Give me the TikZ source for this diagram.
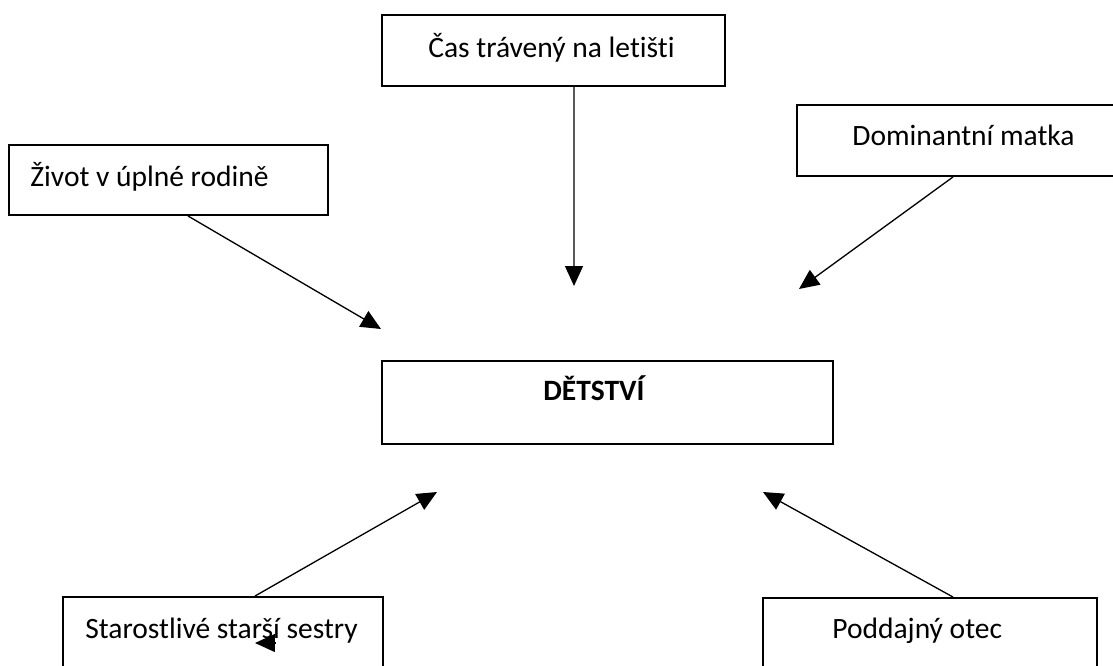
\documentclass[tikz,border=0pt]{standalone}
\usepackage{fontspec}
\setmainfont{Carlito}[Ligatures={NoCommon}]
\usetikzlibrary{arrows.meta,fit}

\begin{document}
\begin{tikzpicture}[x=0.02cm,y=-0.02cm,
		box/.style={draw,line width=1.1pt,inner sep=0pt},
		boxtext/.style={anchor=base west,inner sep=0pt,font=\fontsize{16.8}{20}\selectfont},
		arr/.style={line width=0.75pt,-{Triangle[length=0.4cm,width=0.36cm]}}]
		\useasboundingbox (0,0) rectangle (1113,666);
		% boxes
		\node[box,fit={(382,15) (725,86)}] (cas) {};
		\node[box,fit={(9,145) (328,215)}] (rodina) {};
		\node[box,fit={(797,105) (1125,176)}] (matka) {};
		\node[box,fit={(382,361) (833,444)}] (detstvi) {};
		\node[box,fit={(63,597) (383,700)}] (sestry) {};
		\node[box,fit={(763,598) (1097,700)}] (otec) {};
		% texts
		\node[boxtext] (castext) at (428,57) {Čas trávený na letišti};
		\node[boxtext] (rodinatext) at (30,186) {Život v úplné rodině};
		\node[boxtext] (matkatext) at (852,145) {Dominantní matka};
		\node[boxtext,font=\fontsize{16.8}{20}\selectfont\bfseries] (detstvitext) at (543,400) {DĚTSTVÍ};
		\node[boxtext] (sestrytext) at (85,638) {Starostlivé starší sestry};
		\node[boxtext] (otectext) at (832,638) {Poddajný otec};
		% arrow ends
		\coordinate (cas end) at (574,286);
		\coordinate (rodina end) at (381,329);
		\coordinate (matka end) at (799,289);
		\coordinate (sestry end) at (437,492);
		\coordinate (otec end) at (763,492);
		\coordinate (stray) at (255,643);
		\draw[arr] ([xshift=0.41cm]cas.south) -- (cas end);
		\draw[arr] ([xshift=0.39cm]rodina.south) -- (rodina end);
		\draw[arr] ([xshift=-0.16cm]matka.south) -- (matka end);
		\draw[arr] ([xshift=0.64cm]sestry.north) -- (sestry end);
		\draw[arr] ([xshift=0.46cm]otec.north) -- (otec end);
		\draw[arr] ([xshift=0.42cm]stray) -- (stray);
	\end{tikzpicture}
\end{document}
